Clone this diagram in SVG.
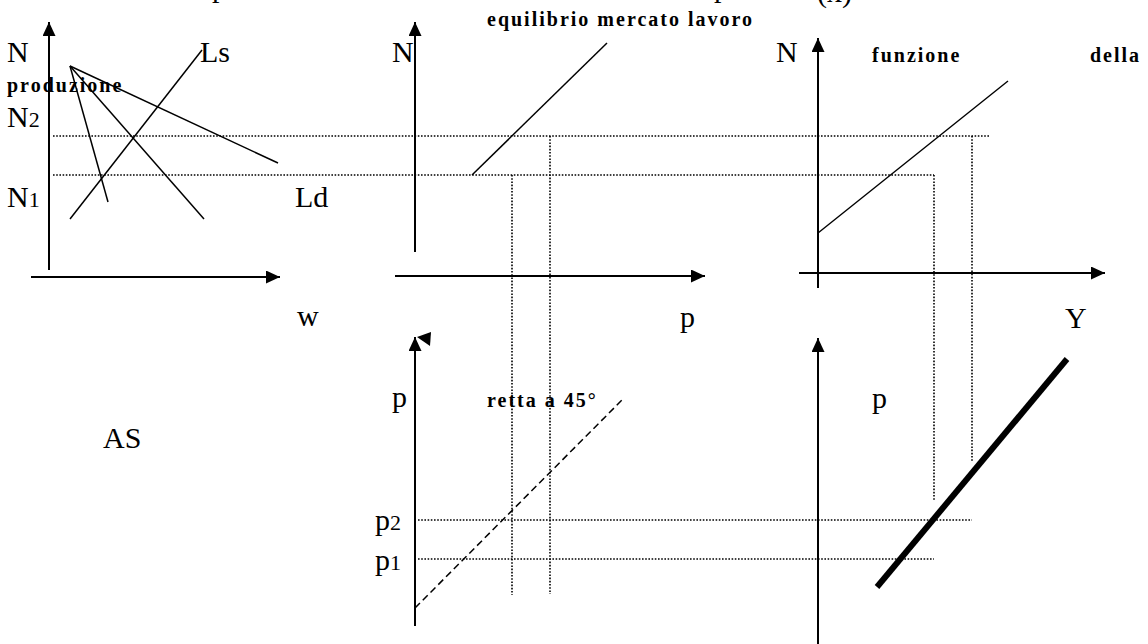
<svg xmlns="http://www.w3.org/2000/svg" width="1148" height="644" viewBox="0 0 1148 644">
<style>
  .ax{stroke:#000;stroke-width:2;fill:none}
  .ln{stroke:#000;stroke-width:1.5;fill:none}
  .dot{stroke:#000;stroke-width:1.6;stroke-dasharray:1.6 1.6;fill:none}
  .t{font-family:"Liberation Serif","Times New Roman",serif;font-size:30px;fill:#000}
  .s{font-size:22px}
  .b{font-family:"Liberation Serif","Times New Roman",serif;font-size:20px;font-weight:bold;letter-spacing:2px;fill:#000}
</style>
<defs>
  <marker id="arr" markerUnits="userSpaceOnUse" markerWidth="15" markerHeight="14" refX="14" refY="6.5" orient="auto">
    <path d="M0,0 L14,6.5 L0,13 z" fill="#000"/>
  </marker>
</defs>
<rect width="1148" height="644" fill="#fff"/>
<g id="top-fragments">
  <text class="t" x="212" y="-3">p</text>
  <text class="t" x="714" y="-3">p</text>
  <text class="t" x="817" y="2">(x)</text>
</g>
<g id="connectors">
  <line class="dot" x1="53" y1="136" x2="989" y2="136"/>
  <line class="dot" x1="53" y1="175" x2="934" y2="175"/>
  <line class="dot" x1="512" y1="175" x2="512" y2="595"/>
  <line class="dot" x1="550" y1="136" x2="550" y2="594"/>
  <line class="dot" x1="934" y1="175" x2="934" y2="500"/>
  <line class="dot" x1="972" y1="136" x2="972" y2="462"/>
  <line class="dot" x1="418" y1="520" x2="972" y2="520"/>
  <line class="dot" x1="418" y1="559" x2="934" y2="559"/>
</g>
<g id="panel-labour-market">
  <line class="ax" x1="49" y1="270" x2="49" y2="22" marker-end="url(#arr)"/>
  <line class="ax" x1="31" y1="277" x2="280" y2="277" marker-end="url(#arr)"/>
  <line class="ln" x1="70" y1="219" x2="202" y2="50"/>
  <line class="ln" x1="70" y1="66" x2="108" y2="202"/>
  <line class="ln" x1="70" y1="66" x2="204" y2="219"/>
  <line class="ln" x1="70" y1="66" x2="278" y2="163"/>
  <text class="t" x="7" y="62">N</text>
  <text class="t" x="200" y="62">Ls</text>
  <text class="b" x="7" y="92">produzione</text>
  <text class="t" x="7" y="127">N<tspan class="s">2</tspan></text>
  <text class="t" x="7" y="207">N<tspan class="s">1</tspan></text>
  <text class="t" x="295" y="207">Ld</text>
  <text class="t" x="297" y="326">w</text>
</g>
<g id="panel-equilibrium">
  <line class="ax" x1="415" y1="252" x2="415" y2="22" marker-end="url(#arr)"/>
  <line class="ax" x1="395" y1="276" x2="705" y2="276" marker-end="url(#arr)"/>
  <line class="ln" x1="472" y1="175" x2="607" y2="43"/>
  <text class="t" x="392" y="62">N</text>
  <text class="b" x="487" y="26">equilibrio mercato lavoro</text>
  <text class="t" x="680" y="327">p</text>
</g>
<g id="panel-production">
  <line class="ax" x1="818" y1="288" x2="818" y2="38" marker-end="url(#arr)"/>
  <line class="ax" x1="799" y1="273" x2="1105" y2="273" marker-end="url(#arr)"/>
  <line class="ln" x1="818" y1="233" x2="1008" y2="81"/>
  <text class="t" x="776" y="62">N</text>
  <text class="b" x="872" y="62">funzione</text>
  <text class="b" x="1090" y="62">della</text>
  <text class="t" x="1065" y="328">Y</text>
</g>
<g id="panel-45">
  <line class="ax" x1="415" y1="626" x2="415" y2="337" marker-end="url(#arr)"/>
  <polygon points="417,337 431,332 430,346" fill="#000"/>
  <line class="ln" x1="415" y1="608" x2="623" y2="399" stroke-dasharray="7 4"/>
  <text class="t" x="392" y="407">p</text>
  <text class="b" x="487" y="407">retta a 45°</text>
  <text class="t" x="375" y="530">p<tspan class="s">2</tspan></text>
  <text class="t" x="375" y="570">p<tspan class="s">1</tspan></text>
</g>
<g id="panel-as">
  <line class="ax" x1="818" y1="644" x2="818" y2="338" marker-end="url(#arr)"/>
  <line x1="877" y1="587" x2="1067" y2="359" stroke="#000" stroke-width="6"/>
  <text class="t" x="872" y="408">p</text>
</g>
<g id="label-as">
  <text class="t" x="103" y="448">AS</text>
</g>
</svg>
